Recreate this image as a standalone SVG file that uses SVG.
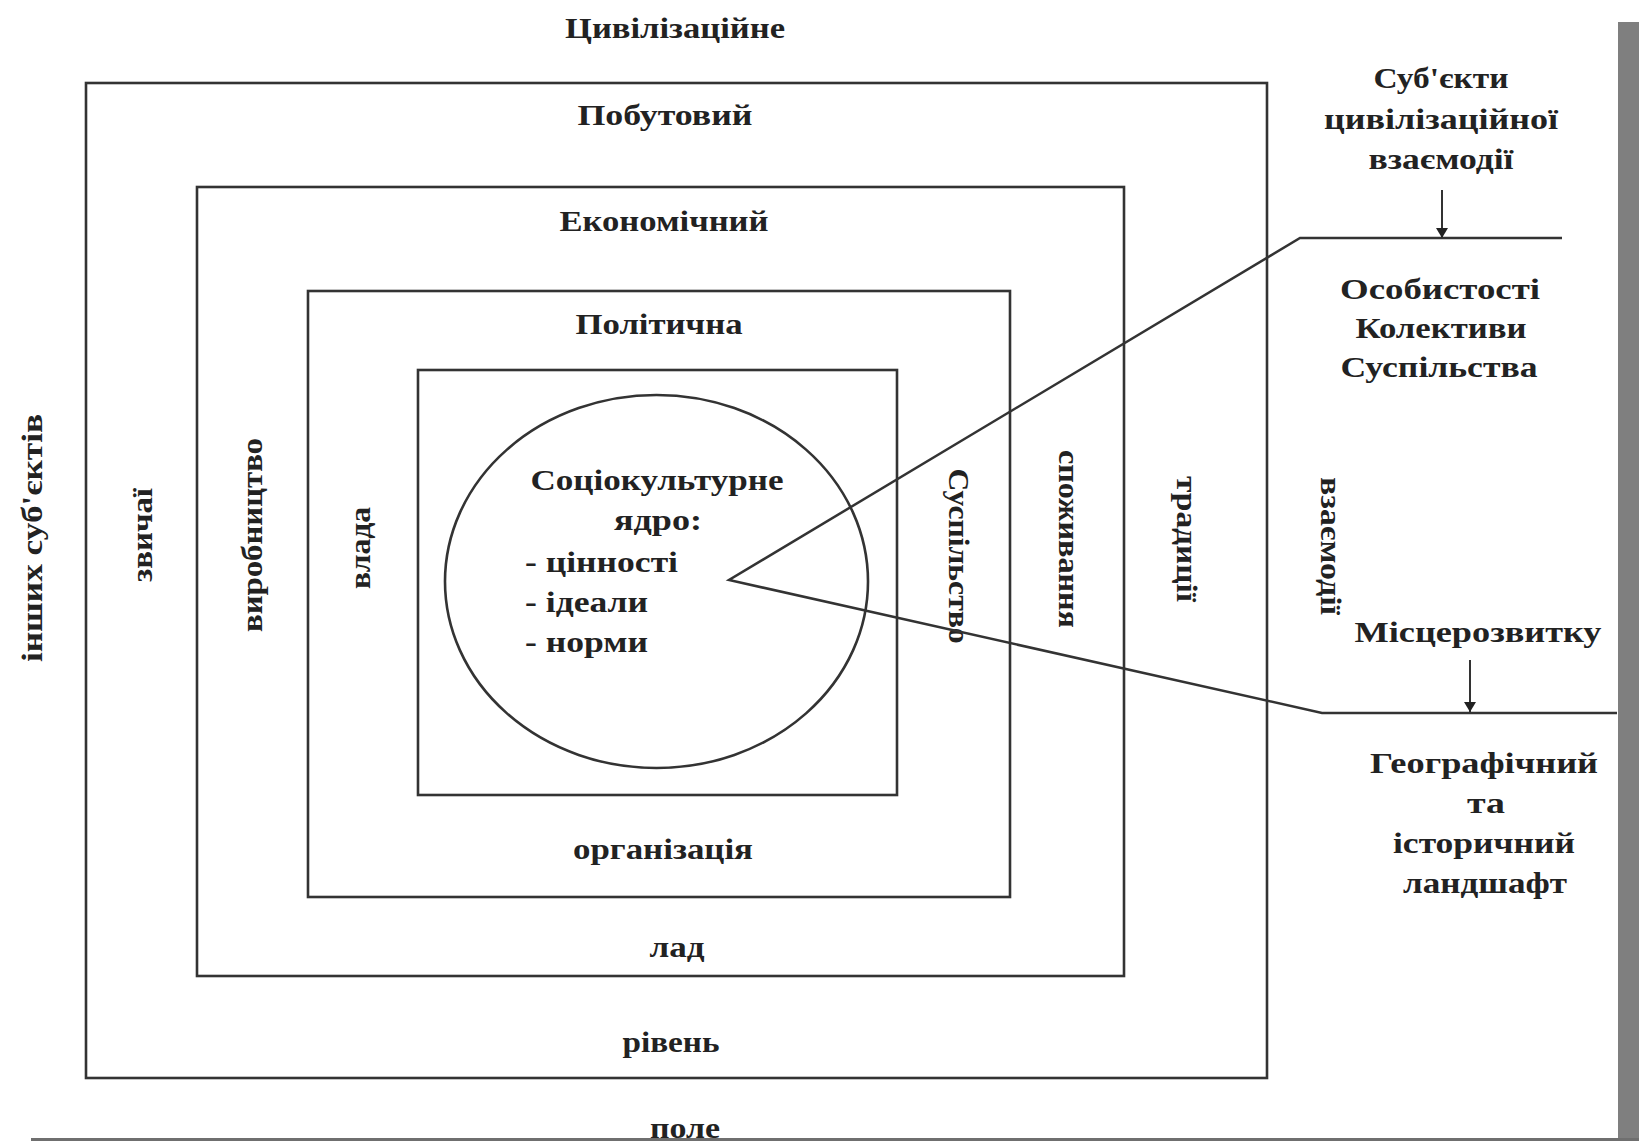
<svg xmlns="http://www.w3.org/2000/svg" width="1639" height="1141" viewBox="0 0 1639 1141">
<style>
.t{font-family:"Liberation Serif","Times New Roman",serif;font-weight:bold;font-size:30px;fill:#222;text-anchor:middle}
.l{text-anchor:start}
.box{fill:none;stroke:#333;stroke-width:2.6}
.ln{fill:none;stroke:#333;stroke-width:2.5}
.arr{fill:none;stroke:#333;stroke-width:2;marker-end:url(#ah)}
</style>
<defs>
<marker id="ah" viewBox="0 0 10 14" refX="10" refY="7" markerWidth="10" markerHeight="14" markerUnits="userSpaceOnUse" orient="auto">
<path d="M0,1 L10,7 L0,13 z" fill="#222"/>
</marker>
</defs>
<rect x="0" y="0" width="1639" height="1141" fill="#fff"/>

<g id="civilizational-field">
<text class="t" x="675" y="38" textLength="220" lengthAdjust="spacingAndGlyphs">Цивілізаційне</text>
<text class="t" x="685" y="1138" textLength="70" lengthAdjust="spacingAndGlyphs">поле</text>
<text class="t" transform="rotate(-90 42 538)" x="42" y="538" textLength="248" lengthAdjust="spacingAndGlyphs">інших суб'єктів</text>
<text class="t" transform="rotate(90 1321 546)" x="1321" y="546" textLength="138" lengthAdjust="spacingAndGlyphs">взаємодії</text>
</g>

<g id="everyday-level">
<rect class="box" x="86" y="83" width="1181" height="995"/>
<text class="t" x="665" y="125" textLength="175" lengthAdjust="spacingAndGlyphs">Побутовий</text>
<text class="t" transform="rotate(-90 152 535)" x="152" y="535" textLength="94" lengthAdjust="spacingAndGlyphs">звичаї</text>
<text class="t" transform="rotate(90 1177 539)" x="1177" y="539" textLength="126" lengthAdjust="spacingAndGlyphs">традиції</text>
<text class="t" x="671" y="1052" textLength="97" lengthAdjust="spacingAndGlyphs">рівень</text>
</g>

<g id="economic-system">
<rect class="box" x="197" y="187" width="927" height="789"/>
<text class="t" x="664" y="231" textLength="209" lengthAdjust="spacingAndGlyphs">Економічний</text>
<text class="t" transform="rotate(-90 262 535)" x="262" y="535" textLength="194" lengthAdjust="spacingAndGlyphs">виробництво</text>
<text class="t" transform="rotate(90 1059 539)" x="1059" y="539" textLength="178" lengthAdjust="spacingAndGlyphs">споживання</text>
<text class="t" x="677" y="957" textLength="55" lengthAdjust="spacingAndGlyphs">лад</text>
</g>

<g id="political-organization">
<rect class="box" x="308" y="291" width="702" height="606"/>
<text class="t" x="659" y="334" textLength="167" lengthAdjust="spacingAndGlyphs">Політична</text>
<text class="t" transform="rotate(-90 370 548)" x="370" y="548" textLength="82" lengthAdjust="spacingAndGlyphs">влада</text>
<text class="t" transform="rotate(90 949 556)" x="949" y="556" textLength="175" lengthAdjust="spacingAndGlyphs">Суспільство</text>
<text class="t" x="663" y="859" textLength="180" lengthAdjust="spacingAndGlyphs">організація</text>
</g>

<g id="core-frame">
<rect class="box" x="418" y="370" width="479" height="425"/>
</g>

<g id="sociocultural-core">
<ellipse class="box" cx="656.5" cy="581.5" rx="211.5" ry="186.5"/>
<text class="t" x="657" y="490" textLength="253" lengthAdjust="spacingAndGlyphs">Соціокультурне</text>
<text class="t" x="658" y="530" textLength="88" lengthAdjust="spacingAndGlyphs">ядро:</text>
<text class="t l" x="525" y="572" textLength="153" lengthAdjust="spacingAndGlyphs">- цінності</text>
<text class="t l" x="525" y="612" textLength="123" lengthAdjust="spacingAndGlyphs">- ідеали</text>
<text class="t l" x="525" y="652" textLength="123" lengthAdjust="spacingAndGlyphs">- норми</text>
</g>

<g id="subjects-header">
<text class="t" x="1441" y="88" textLength="135" lengthAdjust="spacingAndGlyphs">Суб'єкти</text>
<text class="t" x="1441" y="129" textLength="234" lengthAdjust="spacingAndGlyphs">цивілізаційної</text>
<text class="t" x="1441" y="169" textLength="145" lengthAdjust="spacingAndGlyphs">взаємодії</text>
</g>

<g id="subjects-list">
<text class="t" x="1440" y="299" textLength="200" lengthAdjust="spacingAndGlyphs">Особистості</text>
<text class="t" x="1441" y="338" textLength="171" lengthAdjust="spacingAndGlyphs">Колективи</text>
<text class="t" x="1439" y="377" textLength="197" lengthAdjust="spacingAndGlyphs">Суспільства</text>
</g>

<g id="place-header">
<text class="t" x="1478" y="642" textLength="247" lengthAdjust="spacingAndGlyphs">Місцерозвитку</text>
</g>

<g id="landscape">
<text class="t" x="1484" y="773" textLength="228" lengthAdjust="spacingAndGlyphs">Географічний</text>
<text class="t" x="1486" y="813" textLength="38" lengthAdjust="spacingAndGlyphs">та</text>
<text class="t" x="1484" y="853" textLength="182" lengthAdjust="spacingAndGlyphs">історичний</text>
<text class="t" x="1485" y="893" textLength="164" lengthAdjust="spacingAndGlyphs">ландшафт</text>
</g>

<g id="connectors">
<polyline class="ln" points="1562,238 1300,238 729,580 1322,713 1617,713"/>
<line class="arr" x1="1442" y1="190" x2="1442" y2="238"/>
<line class="arr" x1="1470" y1="660" x2="1470" y2="712"/>
</g>

<g id="page-shadow">
<rect x="1618" y="22" width="21" height="1119" fill="#7f7f7f"/>
<rect x="31" y="1138" width="1608" height="3" fill="#6f6f6f"/>
</g>
</svg>
